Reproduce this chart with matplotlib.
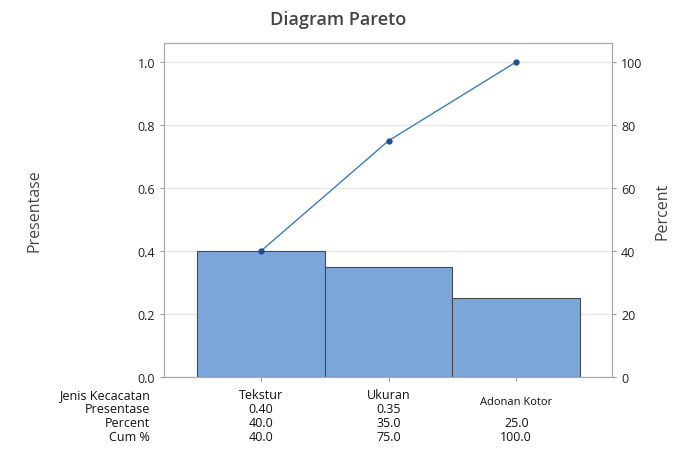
import numpy as np
import matplotlib.pyplot as plt

plt.rcParams['font.family'] = ['Open Sans', 'DejaVu Sans']

# Data
kategori = ['Tekstur', 'Ukuran', 'Adonan Kotor']
presentase = [0.40, 0.35, 0.25]
percent = [40.0, 35.0, 25.0]
cum_pct = [40.0, 75.0, 100.0]

fig = plt.figure(figsize=(6.76, 4.56), dpi=100)
ax = fig.add_axes([164 / 676, 1 - 378 / 456, 448 / 676, 334 / 456])

x = np.arange(len(kategori))
ax.bar(x, presentase, width=1.0, color='#7BA6DA', edgecolor='#4a4a4a', linewidth=0.8, zorder=2)
ax.plot(x, np.array(cum_pct) / 100, color='#3d7cc0', linewidth=1, marker='o',
        markersize=3.5, markerfacecolor='#1f4e8c', markeredgecolor='#1f4e8c', zorder=3)

ax.set_xlim(-0.76, 2.75)
ax.set_ylim(0, 1.06)
ax.set_yticks([0, 0.2, 0.4, 0.6, 0.8, 1.0])
ax.set_yticklabels(['0.0', '0.2', '0.4', '0.6', '0.8', '1.0'])
ax.set_xticks(x)
ax.set_xticklabels([])
ax.grid(axis='y', color='#e6e6e6', linewidth=1, zorder=0)
ax.tick_params(colors='#999999', labelcolor='#222222', labelsize=9, length=3)
for s in ax.spines.values():
    s.set_color('#aaaaaa')

ax2 = ax.twinx()
ax2.set_ylim(0, 106)
ax2.set_yticks([0, 20, 40, 60, 80, 100])
ax2.tick_params(colors='#999999', labelcolor='#222222', labelsize=9, length=3)
for s in ax2.spines.values():
    s.set_color('#aaaaaa')

fig.text(35 / 676, 1 - 211 / 456, 'Presentase', rotation=90, ha='center', va='center',
         fontsize=11.5, color='#444444')
fig.text(662 / 676, 1 - 211 / 456, 'Percent', rotation=90, ha='center', va='center',
         fontsize=11.5, color='#444444')
fig.text(338 / 676, 1 - 20 / 456, 'Diagram Pareto', ha='center', va='center',
         fontsize=13, color='#444444', fontweight='semibold')

# Table below the chart
rows = ['Jenis Kecacatan', 'Presentase', 'Percent', 'Cum %']
row_y = [396, 410, 424, 438]
for lab, yy in zip(rows, row_y):
    fig.text(150 / 676, 1 - yy / 456, lab, ha='right', va='center', fontsize=9, color='#111111')

for i, k in enumerate(kategori):
    xf = ax.transData.transform((x[i], 0))[0] / fig.bbox.width
    if k == 'Adonan Kotor':
        fig.text(xf, 1 - 403 / 456, k, ha='center', va='center', fontsize=8, color='#111111')
    else:
        fig.text(xf, 1 - row_y[0] / 456, k, ha='center', va='center', fontsize=9, color='#111111')
    if k != 'Adonan Kotor':
        fig.text(xf, 1 - row_y[1] / 456, f'{presentase[i]:.2f}', ha='center', va='center',
                 fontsize=9, color='#111111')
    fig.text(xf, 1 - row_y[2] / 456, f'{percent[i]:.1f}', ha='center', va='center',
             fontsize=9, color='#111111')
    fig.text(xf, 1 - row_y[3] / 456, f'{cum_pct[i]:.1f}', ha='center', va='center',
             fontsize=9, color='#111111')

fig.savefig('out.png', dpi=100)
